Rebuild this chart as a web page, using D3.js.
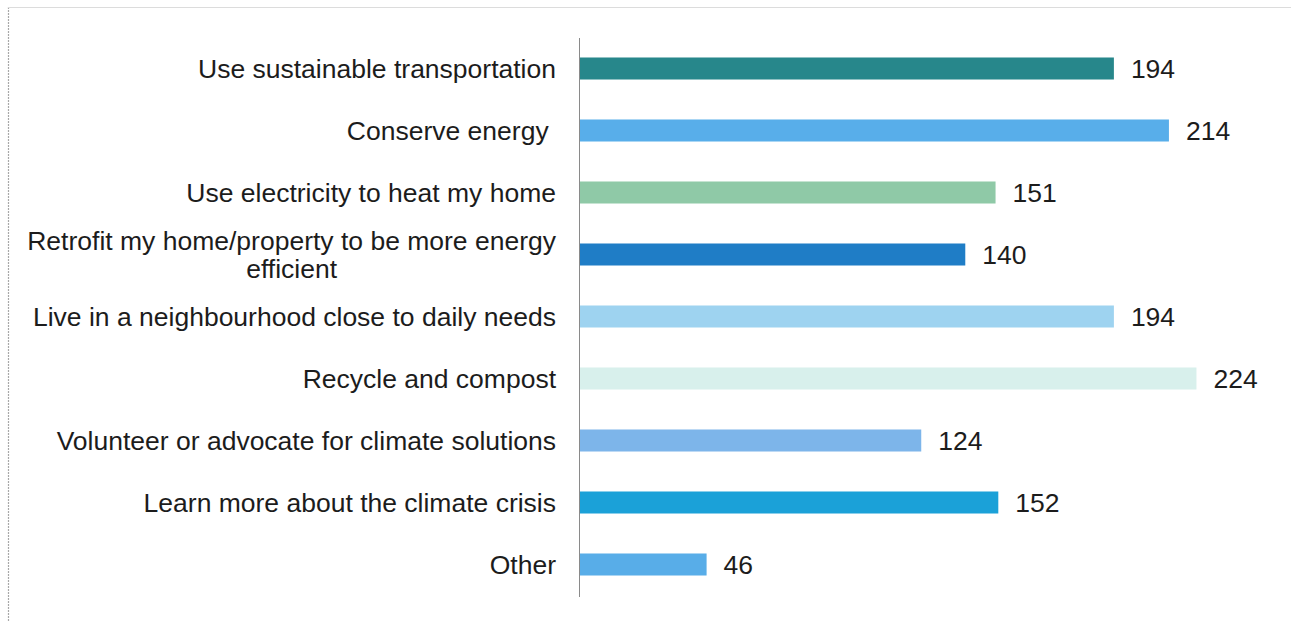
<!DOCTYPE html>
<html>
<head>
<meta charset="utf-8">
<script src="https://cdn.jsdelivr.net/npm/d3@7"></script>
<style>
  html, body { margin: 0; padding: 0; background: #fff; }
  svg { display: block; }
  text { font-family: "Liberation Sans", Arial, sans-serif; fill: #1c1c1c; white-space: pre; }
</style>
</head>
<body>
<svg id="chart" width="1291" height="621"></svg>
<script>
// Climate actions respondents plan to take (count of responses)
const categories = [
  "Use sustainable transportation",
  "Conserve energy ",
  "Use electricity to heat my home",
  "Retrofit my home/property to be more energy\nefficient",
  "Live in a neighbourhood close to daily needs",
  "Recycle and compost",
  "Volunteer or advocate for climate solutions",
  "Learn more about the climate crisis",
  "Other"
];
const values = [194, 214, 151, 140, 194, 224, 124, 152, 46];
const barColors = [
  "#27878b", "#58aeea", "#8fc9a7", "#1f7dc6", "#9ed3f0",
  "#d8f0ec", "#7db5ea", "#1ba1d8", "#58ade8"
];

const svg = d3.select("#chart");
const W = 1291, H = 621;
const fontSize = 26.5;

// frame
svg.append("line").attr("x1", 8.5).attr("x2", 8.5).attr("y1", 7).attr("y2", H)
  .attr("stroke", "#a8a8a8").attr("stroke-width", 1.2).attr("stroke-dasharray", "2,1");
svg.append("line").attr("x1", 8).attr("x2", W).attr("y1", 7.5).attr("y2", 7.5)
  .attr("stroke", "#dcdcdc").attr("stroke-width", 1);

const x = d3.scaleLinear().domain([0, 250]).range([580, 580 + 2.752 * 250]);
const y = d3.scaleBand().domain(categories).range([37.5, 595.5])
  .paddingInner(0.645).paddingOuter(0.3225);

// bars
svg.append("g").selectAll("rect").data(values).join("rect")
  .attr("x", x(0))
  .attr("y", (d, i) => y(categories[i]))
  .attr("width", d => x(d) - x(0))
  .attr("height", y.bandwidth())
  .attr("fill", (d, i) => barColors[i]);

// category axis line
svg.append("line")
  .attr("x1", x(0) - 0.5).attr("x2", x(0) - 0.5)
  .attr("y1", 38).attr("y2", 597)
  .attr("stroke", "#8a8a8a").attr("stroke-width", 1);

// category labels (right-aligned, wrapped lines centred on the first line)
const labelX = 556;
const lineGap = 28;
const labels = svg.append("g").attr("font-size", fontSize);
categories.forEach(cat => {
  const lines = cat.split("\n");
  const cy = y(cat) + y.bandwidth() / 2;
  if (lines.length === 1) {
    labels.append("text")
      .attr("x", labelX).attr("y", cy).attr("dy", "0.36em")
      .attr("text-anchor", "end").text(cat);
  } else {
    const t0 = labels.append("text")
      .attr("x", labelX).attr("y", cy - lineGap / 2).attr("dy", "0.36em")
      .attr("text-anchor", "end").text(lines[0]);
    const w = t0.node().getComputedTextLength();
    lines.slice(1).forEach((ln, k) => {
      labels.append("text")
        .attr("x", labelX - w / 2).attr("y", cy - lineGap / 2 + lineGap * (k + 1)).attr("dy", "0.36em")
        .attr("text-anchor", "middle").text(ln);
    });
  }
});

// value labels
svg.append("g").attr("font-size", fontSize).selectAll("text").data(values).join("text")
  .attr("x", d => x(d) + 17)
  .attr("y", (d, i) => y(categories[i]) + y.bandwidth() / 2)
  .attr("dy", "0.36em")
  .text(d => d);
</script>
</body>
</html>
